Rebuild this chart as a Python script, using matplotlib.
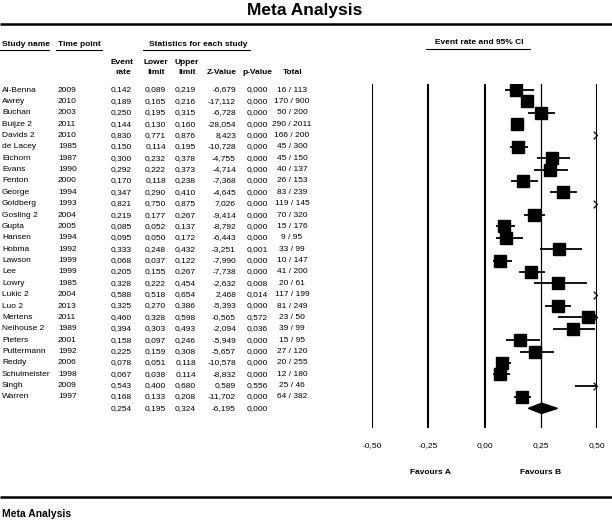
import matplotlib
matplotlib.use('Agg')
import matplotlib.pyplot as plt
from matplotlib import font_manager
from matplotlib.path import Path

# ---------------- data ----------------
names = ['Al-Benna', 'Awrey', 'Buchan', 'Buijze 2', 'Davids 2', 'de Lacey', 'Eichorn',
         'Evans', 'Fenton', 'George', 'Goldberg', 'Gosling 2', 'Gupta', 'Hansen', 'Hobma',
         'Lawson', 'Lee', 'Lowry', 'Lukic 2', 'Luo 2', 'Mertens', 'Neihouse 2', 'Pieters',
         'Puttermann', 'Reddy', 'Schulmeister', 'Singh', 'Warren']
years = [2009, 2010, 2003, 2011, 2010, 1985, 1987, 1990, 2000, 1994, 1993, 2004, 2005, 1994,
         1992, 1999, 1999, 1985, 2004, 2013, 2011, 1989, 2001, 1992, 2006, 1998, 2009, 1997]
rate = [0.142, 0.189, 0.250, 0.144, 0.830, 0.150, 0.300, 0.292, 0.170, 0.347, 0.821, 0.219,
        0.085, 0.095, 0.333, 0.068, 0.205, 0.328, 0.588, 0.325, 0.460, 0.394, 0.158, 0.225,
        0.078, 0.067, 0.543, 0.168]
lower = [0.089, 0.165, 0.195, 0.130, 0.771, 0.114, 0.232, 0.222, 0.118, 0.290, 0.750, 0.177,
         0.052, 0.050, 0.248, 0.037, 0.155, 0.222, 0.518, 0.270, 0.328, 0.303, 0.097, 0.159,
         0.051, 0.038, 0.400, 0.133]
upper = [0.219, 0.216, 0.315, 0.160, 0.876, 0.195, 0.378, 0.373, 0.238, 0.410, 0.875, 0.267,
         0.137, 0.172, 0.432, 0.122, 0.267, 0.454, 0.654, 0.386, 0.598, 0.493, 0.246, 0.308,
         0.118, 0.114, 0.680, 0.208]
zval = [-6.679, -17.112, -6.728, -28.054, 8.423, -10.728, -4.755, -4.714, -7.368, -4.645,
        7.026, -9.414, -8.792, -6.443, -3.251, -7.990, -7.738, -2.632, 2.468, -5.393, -0.565,
        -2.094, -5.949, -5.657, -10.578, -8.832, 0.589, -11.702]
pval = [0.000, 0.000, 0.000, 0.000, 0.000, 0.000, 0.000, 0.000, 0.000, 0.000, 0.000, 0.000,
        0.000, 0.000, 0.001, 0.000, 0.000, 0.008, 0.014, 0.000, 0.572, 0.036, 0.000, 0.000,
        0.000, 0.000, 0.556, 0.000]
events = [16, 170, 50, 290, 166, 45, 45, 40, 26, 83, 119, 70, 15, 9, 33, 10, 41, 20, 117, 81,
          23, 39, 15, 27, 20, 12, 25, 64]
totals = [113, 900, 200, 2011, 200, 300, 150, 137, 153, 239, 145, 320, 176, 95, 99, 147, 200,
          61, 199, 249, 50, 99, 95, 120, 255, 180, 46, 382]
overall_rate = 0.254
overall_lower = 0.195
overall_upper = 0.324
overall_z = -6.195
overall_p = 0.000
xticks = [-0.50, -0.25, 0.00, 0.25, 0.50]
xticklabels = ['-0,50', '-0,25', '0,00', '0,25', '0,50']

# ---------------- fonts ----------------
avail = {f.name for f in font_manager.fontManager.ttflist}
NARROW = 'Liberation Sans Narrow' if 'Liberation Sans Narrow' in avail else 'Liberation Sans'
WIDE = 'Liberation Sans'
FS = 6.0

def fmt(v):
    return f"{v:.3f}".replace('.', ',')

W, H = 612, 523
fig = plt.figure(figsize=(W / 100, H / 100), dpi=100)

tab = fig.add_axes([0, 0, 1, 1])
tab.set_xlim(0, W)
tab.set_ylim(H, 0)
tab.axis('off')

ROW0 = 90.0
DY = 11.37
def ry(i):
    return ROW0 + DY * i

n = len(names)

# title & separator lines
tab.text(305, 11, 'Meta Analysis', family=WIDE, fontsize=12.5, fontweight='bold',
         ha='center', va='center')
tab.plot([0, W], [24, 24], color='black', lw=1.8, solid_capstyle='butt')
tab.plot([0, W], [497, 497], color='black', lw=1.8, solid_capstyle='butt')
tab.text(2, 514, 'Meta Analysis', family=NARROW, fontsize=7.5, fontweight='bold',
         ha='left', va='center')

hd = dict(family=NARROW, fontsize=FS, fontweight='bold', va='center')
tab.text(2, 44, 'Study name', ha='left', **hd)
tab.text(58, 44, 'Time point', ha='left', **hd)
tab.text(198, 44, 'Statistics for each study', ha='center', **hd)
tab.text(479, 43, 'Event rate and 95% CI', ha='center', **hd)
for x0, x1, y in [(0, 49, 50), (56, 102, 50), (143, 250, 50), (426, 530, 49)]:
    tab.plot([x0, x1], [y, y], color='black', lw=0.8)

tab.text(122, 62, 'Event', ha='center', **hd)
tab.text(123, 73, 'rate', ha='center', **hd)
tab.text(156, 62, 'Lower', ha='center', **hd)
tab.text(156, 73, 'limit', ha='center', **hd)
tab.text(187, 62, 'Upper', ha='center', **hd)
tab.text(187, 73, 'limit', ha='center', **hd)
tab.text(222, 73, 'Z-Value', ha='center', **hd)
tab.text(257, 73, 'p-Value', ha='center', **hd)
tab.text(293, 73, 'Total', ha='center', **hd)

tx = dict(family=NARROW, fontsize=FS, va='center')
for i in range(n):
    y = ry(i)
    tab.text(2, y, names[i], ha='left', **tx)
    tab.text(58, y, str(years[i]), ha='left', **tx)
    tab.text(132, y, fmt(rate[i]), ha='right', **tx)
    tab.text(166, y, fmt(lower[i]), ha='right', **tx)
    tab.text(196, y, fmt(upper[i]), ha='right', **tx)
    tab.text(236, y, fmt(zval[i]), ha='right', **tx)
    tab.text(268, y, fmt(pval[i]), ha='right', **tx)
    tab.text(292, y, f"{events[i]} / {totals[i]}", ha='center', **tx)
y = ry(n)
tab.text(132, y, fmt(overall_rate), ha='right', **tx)
tab.text(166, y, fmt(overall_lower), ha='right', **tx)
tab.text(196, y, fmt(overall_upper), ha='right', **tx)
tab.text(236, y, fmt(overall_z), ha='right', **tx)
tab.text(268, y, fmt(overall_p), ha='right', **tx)

# ---------------- forest axes ----------------
PX_L, PX_R = 372, 597
PX_T, PX_B = 84, 428
ax = fig.add_axes([PX_L / W, 1 - PX_B / H, (PX_R - PX_L) / W, (PX_B - PX_T) / H])
ax.patch.set_alpha(0)
xmin, xmax = xticks[0], xticks[-1]
ax.set_xlim(xmin, xmax)
ax.set_ylim((PX_B - ROW0) / DY, (PX_T - ROW0) / DY)
for s in ax.spines.values():
    s.set_visible(False)
ax.set_yticks([])
ax.set_xticks(xticks, xticklabels)
ax.tick_params(axis='x', length=0, pad=10, labelsize=FS)
for lab in ax.get_xticklabels():
    lab.set_family(NARROW)
for t in xticks:
    ax.axvline(t, color='black', lw=(0.9 if t == 0.25 else 1.5), zorder=1)

chevron = Path([(-1, 1), (0, 0), (-1, -1)], [Path.MOVETO, Path.LINETO, Path.LINETO])
for i in range(n):
    lo, hi, r = lower[i], upper[i], rate[i]
    if lo < xmax:
        ax.hlines(i, max(lo, xmin), min(hi, xmax), color='black', lw=1.3, zorder=2)
    if hi > xmax:
        ax.plot([xmax], [i], marker=chevron, ms=5.5, mfc='none', mec='black', mew=0.9,
                linestyle='none', zorder=3, clip_on=False)
    if xmin <= r <= xmax:
        ax.plot([r], [i], marker='s', ms=8.2, color='black', linestyle='none', zorder=4)

ax.fill([overall_lower, overall_rate, overall_upper, overall_rate],
        [n, n - 0.45, n, n + 0.45], color='black', zorder=4)

tab.text(430, 472, 'Favours A', ha='center', **hd)
tab.text(541, 472, 'Favours B', ha='center', **hd)

fig.savefig('out.png', dpi=100)
